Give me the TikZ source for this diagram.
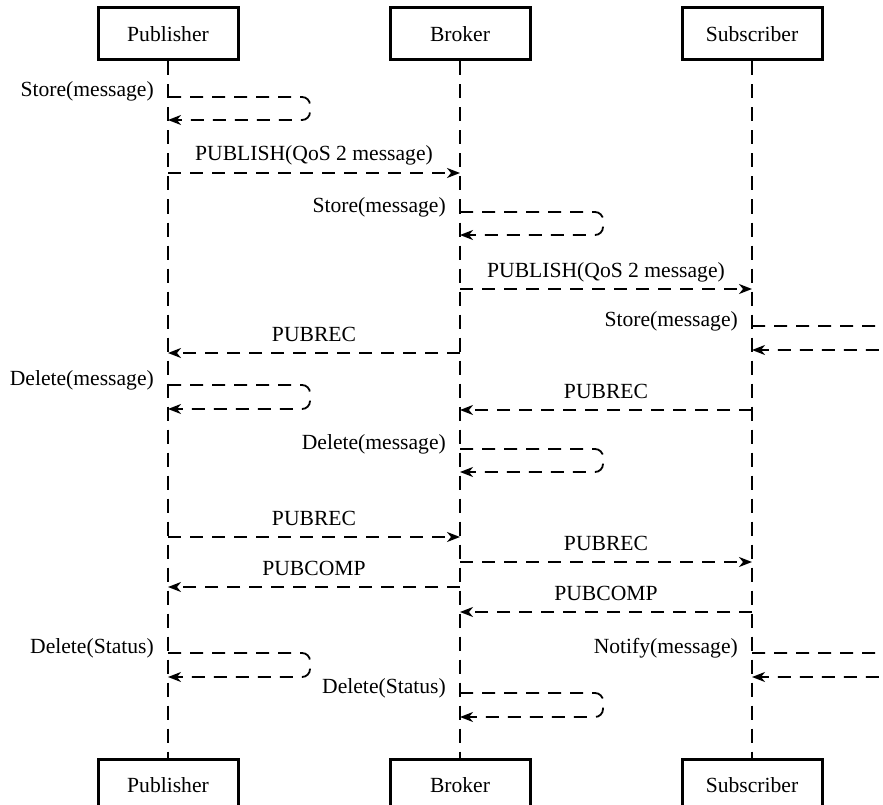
\documentclass[tikz,border=0pt]{standalone}
\usepackage{fontspec}
\setmainfont{Liberation Serif}
\usetikzlibrary{arrows.meta,positioning}

\begin{document}
\begin{tikzpicture}[
    x=1pt, y=-1pt,
    font=\fontsize{21.6}{25}\selectfont,
    actor/.style={draw, line width=3pt, minimum width=140pt, minimum height=52pt, inner sep=0pt},
    lifeline/.style={line width=1.8pt, dash pattern=on 14pt off 9pt},
    msg/.style={-{Stealth[length=13pt,width=10pt,inset=4pt]}, line width=1.8pt, dash pattern=on 13pt off 9pt},
    selfmsg/.style={msg, rounded corners=8pt},
    lbl/.style={midway, anchor=base, yshift=12pt},
    selflbl/.style={anchor=base east, xshift=-10pt}
]
\useasboundingbox (0,0) rectangle (883,805);

% Participants
\node[actor] (pubTop) at (168,34) {Publisher};
\node[actor, right=149pt of pubTop] (brkTop) {Broker};
\node[actor, right=149pt of brkTop] (subTop) {Subscriber};
\node[actor] (pubBot) at (168,785) {Publisher};
\node[actor, right=149pt of pubBot] (brkBot) {Broker};
\node[actor, right=149pt of brkBot] (subBot) {Subscriber};

% Lifelines
\foreach \p in {pub,brk,sub}
    \draw[lifeline] (\p Top) -- (\p Bot);

% Messages
\draw[selfmsg] (pubTop |- 0,97) node[selflbl] {Store(message)} -- ++(142,0) -- ++(0,23) -- ++(-142,0);
\draw[msg] (pubTop |- 0,173) -- node[lbl] {PUBLISH(QoS 2 message)} (brkTop |- 0,173);
\draw[selfmsg] (brkTop |- 0,212) node[selflbl] {Store(message)} -- ++(143,0) -- ++(0,23) -- ++(-143,0);
\draw[msg] (brkTop |- 0,289) -- node[lbl] {PUBLISH(QoS 2 message)} (subTop |- 0,289);
\draw[selfmsg] (subTop |- 0,326) node[selflbl] {Store(message)} -- ++(143,0) -- ++(0,24) -- ++(-143,0);
\draw[msg] (brkTop |- 0,353) -- node[lbl] {PUBREC} (pubTop |- 0,353);
\draw[selfmsg] (pubTop |- 0,385) node[selflbl] {Delete(message)} -- ++(142,0) -- ++(0,24) -- ++(-142,0);
\draw[msg] (subTop |- 0,410) -- node[lbl] {PUBREC} (brkTop |- 0,410);
\draw[selfmsg] (brkTop |- 0,449) node[selflbl] {Delete(message)} -- ++(143,0) -- ++(0,23) -- ++(-143,0);
\draw[msg] (pubTop |- 0,537) -- node[lbl] {PUBREC} (brkTop |- 0,537);
\draw[msg] (brkTop |- 0,562) -- node[lbl] {PUBREC} (subTop |- 0,562);
\draw[msg] (brkTop |- 0,587) -- node[lbl] {PUBCOMP} (pubTop |- 0,587);
\draw[msg] (subTop |- 0,612) -- node[lbl] {PUBCOMP} (brkTop |- 0,612);
\draw[selfmsg] (pubTop |- 0,653) node[selflbl] {Delete(Status)} -- ++(142,0) -- ++(0,24) -- ++(-142,0);
\draw[selfmsg] (subTop |- 0,653) node[selflbl] {Notify(message)} -- ++(143,0) -- ++(0,24) -- ++(-143,0);
\draw[selfmsg] (brkTop |- 0,693) node[selflbl] {Delete(Status)} -- ++(143,0) -- ++(0,24) -- ++(-143,0);

\end{tikzpicture}
\end{document}
